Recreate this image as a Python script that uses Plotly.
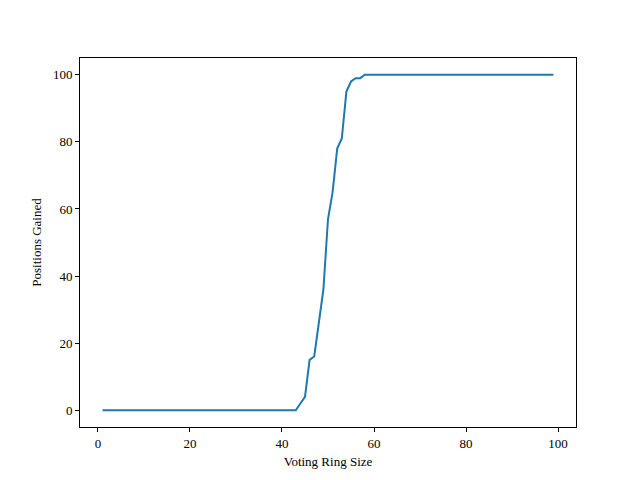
import plotly.graph_objects as go

ring_size = list(range(1, 100))
gained_known = {44: 2, 45: 4, 46: 15, 47: 16, 48: 26, 49: 36, 50: 57, 51: 65, 52: 78,
                53: 81, 54: 95, 55: 98, 56: 99, 57: 99}
positions_gained = []
for s in ring_size:
    if s <= 43:
        positions_gained.append(0)
    elif s in gained_known:
        positions_gained.append(gained_known[s])
    else:
        positions_gained.append(100)

fig = go.Figure(go.Scatter(x=ring_size, y=positions_gained, mode="lines",
                           line=dict(color="#1f77b4", width=2)))
font = dict(family="Liberation Serif, DejaVu Serif, serif", size=13, color="black")
fig.update_layout(
    width=640, height=480, paper_bgcolor="white", plot_bgcolor="white",
    margin=dict(l=72, r=72, t=50, b=61), showlegend=False, font=font,
    xaxis=dict(range=[-3.9, 103.9], tickvals=[0, 20, 40, 60, 80, 100], showgrid=False,
               zeroline=False, showline=True, mirror=True, linecolor="black", linewidth=1,
               ticks="outside", ticklen=4, tickcolor="black",
               title=dict(text="Voting Ring Size", font=font, standoff=7)),
    yaxis=dict(range=[-5, 105], tickvals=[0, 20, 40, 60, 80, 100], showgrid=False,
               zeroline=False, showline=True, mirror=True, linecolor="black", linewidth=1,
               ticks="outside", ticklen=4, tickcolor="black",
               title=dict(text="Positions Gained", font=font, standoff=8)),
)
fig.write_html("out.html")
